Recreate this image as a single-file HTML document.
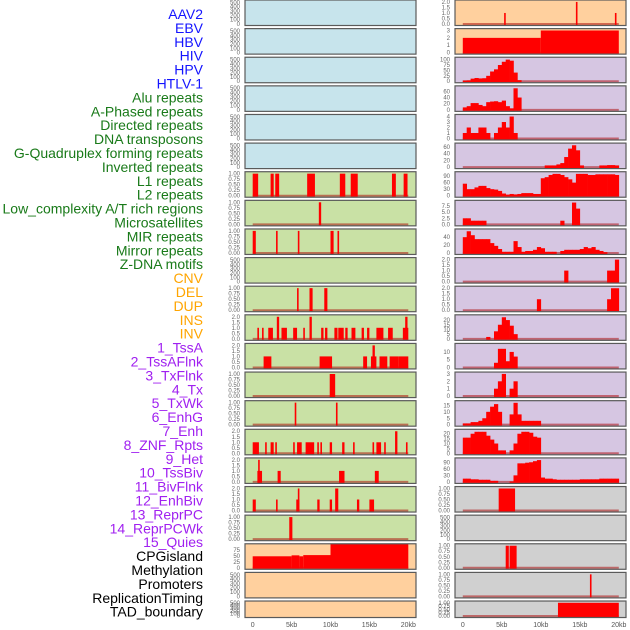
<!DOCTYPE html>
<html><head><meta charset="utf-8"><style>
html,body{margin:0;padding:0;background:#fff;width:630px;height:630px;overflow:hidden}
svg{display:block;font-family:"Liberation Sans",sans-serif}
</style></head><body>
<svg id="chart" width="630" height="630" viewBox="0 0 630 630"></svg>
<script>
// ---------- labels ----------
const blueLabels = ["AAV2","EBV","HBV","HIV","HPV","HTLV-1"];
const greenLabels = ["Alu repeats","A-Phased repeats","Directed repeats","DNA transposons","G-Quadruplex forming repeats","Inverted repeats","L1 repeats","L2 repeats","Low_complexity A/T rich regions","Microsatellites","MIR repeats","Mirror repeats","Z-DNA motifs"];
const orangeLabels = ["CNV","DEL","DUP","INS","INV"];
const purpleLabels = ["1_TssA","2_TssAFlnk","3_TxFlnk","4_Tx","5_TxWk","6_EnhG","7_Enh","8_ZNF_Rpts","9_Het","10_TssBiv","11_BivFlnk","12_EnhBiv","13_ReprPC","14_ReprPCWk","15_Quies"];
const blackLabels = ["CPGisland","Methylation","Promoters","ReplicationTiming","TAD_boundary"];
const xTickValues = [0,5,10,15,20];
const xTickLabels = ["0","5kb","10kb","15kb","20kb"];

// ---------- tick sets ----------
const t500 = [0,100,200,300,400,500];
const t1 = [0,0.25,0.5,0.75,1];
const t1l = ["0.00","0.25","0.50","0.75","1.00"];
const t2 = [0,0.5,1,1.5,2];
const t2l = ["0.0","0.5","1.0","1.5","2.0"];

// ---------- left column interval data [startKb,endKb,value] ----------
const leftL1 = [[0,0.7,1],[2.3,2.7,1],[2.9,3.4,1],[7,8,1],[11.2,11.9,1],[12.6,13.5,1],[17.9,18.4,1],[19.4,19.9,1]];
const leftL2 = [[8.5,8.8,1]];
const leftLowc = [[0,0.4,1],[3.0,3.2,1],[5.8,6.0,1],[10.0,10.4,1],[10.9,11.1,1]];
const leftMir = [[5.7,5.9,1],[7.3,7.7,1],[9.2,9.6,1]];
const leftZdna = [[0.6,0.8,1],[1.2,1.4,1],[2,2.6,1],[3.1,3.4,2],[3.7,4.4,1],[5.2,5.7,1],[6.5,6.7,1],[7.3,7.6,2],[8.8,9.1,1],[9.3,9.6,1],[10.5,10.9,1],[11,11.7,1],[11.9,12.2,1],[12.7,13.2,1],[14,14.3,1],[14.7,15,1],[15.9,16.8,1],[17.4,18,1],[19.3,20,1],[19.6,19.9,2]];
const leftCnv = [[1.4,2.4,1],[8.6,10.2,1],[14.2,14.7,1],[15.2,15.9,1],[15.4,15.7,2],[16.3,17.3,1],[17.6,18.7,1],[18.7,20,1]];
const leftDel = [[9.9,10.6,1]];
const leftDup = [[5.4,5.6,1],[10.7,10.9,1]];
const leftIns = [[0,0.8,1],[1.6,1.8,1],[2.3,2.7,1],[2.9,3.1,1],[5.2,5.4,1],[5.7,6.3,1],[6.8,7.9,1],[8.3,8.5,1],[8.7,8.9,1],[9.9,10.2,1],[11.5,11.8,1],[12.9,13.1,1],[15.4,15.5,1],[15.9,16.5,1],[16.9,17.1,1],[18.3,18.6,2],[19.7,19.9,1]];
const leftInv = [[0.6,1.2,1],[0.7,0.9,2],[3.2,3.6,1],[11.1,11.8,1],[15.7,16.2,1]];
const leftTss = [[0,0.4,1],[3.0,3.2,1],[5.6,6.0,1],[5.8,6.0,2],[8.3,8.6,1],[9.9,10.2,1],[10.6,11.0,2],[13.4,13.7,1],[15.0,15.6,1]];
const leftFlnk = [[4.7,5.1,1]];
const leftCpg = [[0,5,48],[5,6,52],[6,6.5,48],[6.5,10,53],[10,20,100]];

// ---------- right column data ----------
const rightAav = [[5.3,5.5,1],[14.5,14.7,2],[19.5,19.7,1]];
const rightEbv = [[0,10,2],[10,20,3]];
// profiles: 40 bins of 0.5kb from 0 to 20kb
const profHiv = [3,4,12,15,13,14,25,45,55,75,90,100,95,40,5,0,0,0,0,0,0,0,0,0,0,0,0,0,0,0,0,0,0,0,0,0,0,0,0,0];
const profAlu = [8,12,22,22,16,12,25,27,28,25,30,12,5,70,40,0,0,0,0,0,0,0,0,0,0,0,0,0,0,0,0,0,0,0,0,0,0,0,0,0];
const profDir = [1,2,1,1,2,2,1,0,1,2,3,2,4,1,0,0,0,0,0,0,0,0,0,0,0,0,0,0,0,0,0,0,0,0,0,0,0,0,0,0];
const profGq = [0,0,0,0,0,0,0,0,0,0,0,0,0,0,0,0,0,0,0,0,0,5,5,5,8,12,30,55,65,50,5,0,0,0,0,5,5,6,6,5];
const profL1 = [55,30,30,38,45,45,35,30,28,22,10,5,8,6,8,12,12,12,8,8,80,85,95,100,100,95,85,75,60,100,100,100,95,95,98,98,98,98,98,95];
const profLow = [2.5,2.5,1.5,1.5,1.5,1.5,0,0,0,0,0,0,0,0,0,0,0,0,0,0,0,0,0,0,0,1.5,0,0,9,6.5,0,0,0,0,0,0,0,0,0,0];
const profMir = [40,55,45,35,35,35,35,25,18,10,3,3,3,30,15,3,5,5,8,15,12,3,3,3,0,5,8,8,8,8,10,15,12,15,8,5,2,0,0,0];
const profMirror = [0,0,0,0,0,0,0,0,0,0,0,0,0,0,0,0,0,0,0,0,0,0,0,0,0,0,1,0,0,0,0,0,0,0,0,0,0,1,1,2];
const profZ = [0,0,0,0,0,0,0,0,0,0,0,0,0,0,0,0,0,0,0,1,0,0,0,0,0,0,0,0,0,0,0,0,0,0,0,0,0,1,2,2];
const profTssA = [0,0,0,0,0,0,2,0,8,15,23,20,14,5,0,0,0,0,0,0,0,0,0,0,0,0,0,0,0,0,0,0,0,0,0,0,0,0,0,0];
const profTssFl = [0,0,0,0,0,0,0,0,3,12,12,4,10,7,0,0,0,0,0,0,0,0,0,0,0,0,0,0,0,0,0,0,0,0,0,0,0,0,0,0];
const profTx = [0,0,0,0,0,0,0,0,1,2,3,0,1,2,0,0,0,0,0,0,0,0,0,0,0,0,0,0,0,0,0,0,0,0,0,0,0,0,0,0];
const profTxWk = [1,1,2,2,3,5,10,14,16,10,0,0,8,17,8,3,3,3,3,3,0,0,0,0,0,0,0,0,0,0,0,0,0,0,0,0,0,0,0,0];
const profEnh = [16,16,20,22,22,22,18,14,10,3,3,0,3,10,20,22,22,21,17,16,0,0,0,0,0,0,0,0,0,0,0,0,0,0,0,0,0,0,0,0];
const profZnf = [15,15,12,12,10,10,10,5,5,0,0,0,2,30,85,85,88,90,95,100,20,15,15,12,10,10,10,10,10,10,12,12,12,12,12,15,15,15,15,15];
const rightBiv = [[4.6,6.7,1]];
const rightRepr = [[5.5,5.9,1],[6.0,6.9,1]];
const rightRepWk = [[16.3,16.5,1]];
const rightQuies = [[12.2,20,1]];

const BG = {blue:"#c7e4ec",green:"#c9e1a5",orange:"#ffd09e",purple:"#d6c6e2",grey:"#d0d0d0"};
const leftPanels = [
 {name:"aav2",bg:BG.blue,ticks:t500,top:520},
 {name:"ebv",bg:BG.blue,ticks:t500,top:520},
 {name:"hbv",bg:BG.blue,ticks:t500,top:520},
 {name:"hiv",bg:BG.blue,ticks:t500,top:520},
 {name:"hpv",bg:BG.blue,ticks:t500,top:520},
 {name:"htlv",bg:BG.blue,ticks:t500,top:520},
 {name:"l1",bg:BG.green,ticks:t1,tl:t1l,top:1.02,iv:leftL1},
 {name:"l2",bg:BG.green,ticks:t1,tl:t1l,top:1.02,iv:leftL2},
 {name:"lowc",bg:BG.green,ticks:t1,tl:t1l,top:1.02,iv:leftLowc},
 {name:"micro",bg:BG.green,ticks:t500,top:520},
 {name:"mir",bg:BG.green,ticks:t1,tl:t1l,top:1.02,iv:leftMir},
 {name:"zdna",bg:BG.green,ticks:t2,tl:t2l,top:2.04,iv:leftZdna},
 {name:"cnv",bg:BG.green,ticks:t2,tl:t2l,top:2.04,iv:leftCnv},
 {name:"del",bg:BG.green,ticks:t1,tl:t1l,top:1.02,iv:leftDel},
 {name:"dup",bg:BG.green,ticks:t1,tl:t1l,top:1.02,iv:leftDup},
 {name:"ins",bg:BG.green,ticks:t2,tl:t2l,top:2.04,iv:leftIns},
 {name:"inv",bg:BG.green,ticks:t2,tl:t2l,top:2.04,iv:leftInv},
 {name:"tssa",bg:BG.green,ticks:t2,tl:t2l,top:2.04,iv:leftTss},
 {name:"flnk",bg:BG.green,ticks:t1,tl:t1l,top:1.02,iv:leftFlnk},
 {name:"cpg",bg:BG.orange,ticks:[0,25,50,75],top:94,iv:leftCpg},
 {name:"methyl",bg:BG.orange,ticks:t500,top:520},
 {name:"promoters",bg:BG.orange,ticks:t500,top:520}
];
const rightPanels = [
 {name:"aav2-r",bg:BG.orange,ticks:t2,tl:t2l,top:2.04,iv:rightAav},
 {name:"ebv-r",bg:BG.orange,ticks:[0,1,2,3],top:3.05,iv:rightEbv},
 {name:"hiv-r",bg:BG.purple,ticks:[0,25,50,75,100],top:104,pr:profHiv},
 {name:"alu-r",bg:BG.purple,ticks:[0,20,40,60],top:73,pr:profAlu},
 {name:"directed-r",bg:BG.purple,ticks:[0,1,2,3,4],top:4.1,pr:profDir},
 {name:"gquad-r",bg:BG.purple,ticks:[0,20,40,60],top:67,pr:profGq},
 {name:"l1-r",bg:BG.purple,ticks:[0,30,60,90],top:103,pr:profL1},
 {name:"lowc-r",bg:BG.purple,ticks:[0,2.5,5,7.5],tl:["0.0","2.5","5.0","7.5"],top:9.3,pr:profLow},
 {name:"mir-r",bg:BG.purple,ticks:[0,20,40],top:57,pr:profMir},
 {name:"mirror-r",bg:BG.purple,ticks:t2,tl:t2l,top:2.05,pr:profMirror},
 {name:"zdna-r",bg:BG.purple,ticks:t2,tl:t2l,top:2.05,pr:profZ},
 {name:"tssa-r",bg:BG.purple,ticks:[0,5,10,15,20],top:24,pr:profTssA},
 {name:"tssaflnk-r",bg:BG.purple,ticks:[0,5,10],top:14.5,pr:profTssFl},
 {name:"txflnk-r",bg:BG.purple,ticks:[0,1,2,3],top:3.05,pr:profTx},
 {name:"txwk-r",bg:BG.purple,ticks:[0,5,10,15],top:17.5,pr:profTxWk},
 {name:"enh-r",bg:BG.purple,ticks:[0,5,10,15,20],top:23,pr:profEnh},
 {name:"znf-r",bg:BG.purple,ticks:[0,30,60,90],top:103,pr:profZnf},
 {name:"bivflnk-r",bg:BG.grey,ticks:t1,tl:t1l,top:1.02,iv:rightBiv},
 {name:"enhbiv-r",bg:BG.grey,ticks:t500,top:520},
 {name:"reprpc-r",bg:BG.grey,ticks:t1,tl:t1l,top:1.02,iv:rightRepr},
 {name:"reprpcwk-r",bg:BG.grey,ticks:t1,tl:t1l,top:1.02,iv:rightRepWk},
 {name:"quies-r",bg:BG.grey,ticks:t1,tl:t1l,top:1.02,iv:rightQuies}
];

const NS="http://www.w3.org/2000/svg";
const svg=document.getElementById("chart");
function mk(tag,attrs,parent){const e=document.createElementNS(NS,tag);for(const k in attrs)e.setAttribute(k,attrs[k]);(parent||svg).appendChild(e);return e;}

// labels
const groups=[[blueLabels,"#1414ff"],[greenLabels,"#197a19"],[orangeLabels,"#ffa500"],[purpleLabels,"#a020f0"],[blackLabels,"#000"]];
let li=0;
groups.forEach(g=>g[0].forEach(t=>{
  const e=mk("text",{x:203,y:19+li*13.9,"text-anchor":"end","font-size":"14",fill:g[1]});
  
  
  e.textContent=t;li++;
}));

function drawCol(panels,x0,x1,zeroX,kbPx,tickRight,colName){
  const xs=kb=>zeroX+kb*kbPx;
  panels.forEach((p,i)=>{
    const T=i*28.62, H=(i===21?16.5:25.5), B=T+H;
    const g=mk("g",{});
    
    
    const cp=mk("clipPath",{id:"c"+colName+i},g);
    mk("rect",{x:x0,y:T,width:x1-x0,height:H},cp);
    const bg=mk("rect",{x:x0,y:T,width:x1-x0,height:H,fill:p.bg},g);
    
    
    const ys=v=>B-1.5-v/p.top*(H-3);
    const marks=mk("g",{"clip-path":"url(#c"+colName+i+")"},g);
    if(p.iv||p.pr){
      const bl=mk("line",{x1:xs(0),x2:xs(20),y1:ys(0),y2:ys(0),stroke:"rgba(170,0,0,0.5)","stroke-width":2},marks);
      
      
    }
    if(p.iv) p.iv.forEach(d=>{
      const w=Math.max(1.6,xs(d[1])-xs(d[0]));
      const r=mk("rect",{x:xs(d[0]),y:ys(d[2]),width:w,height:ys(0)-ys(d[2])+1,fill:"#ff0000"},marks);
      
      
    });
    if(p.pr) p.pr.forEach((v,k)=>{
      if(v<=0)return;
      const r=mk("rect",{x:xs(k*0.5),y:ys(v),width:xs(0.5)-xs(0)+0.3,height:ys(0)-ys(v)+1,fill:"#ff0000"},marks);
      
      
    });
    mk("rect",{x:x0,y:T,width:x1-x0,height:H,fill:"none",stroke:"#5a5a5a","stroke-width":1.2},g);
    p.ticks.forEach((tv,j)=>{
      const t=mk("text",{x:tickRight,y:ys(tv)+2,"text-anchor":"end","font-size":"6",fill:"#666"},g);
      
      
      t.textContent=p.tl?p.tl[j]:String(tv);
    });
  });
  xTickValues.forEach((v,j)=>{
    const t=mk("text",{x:xs(v),y:627,"text-anchor":"middle","font-size":"7",fill:"#555"});
    
    
    t.textContent=xTickLabels[j];
  });
}
drawCol(leftPanels,245,416,252.7,7.78,240,"left");
drawCol(rightPanels,455,626,462.8,7.8,450,"right");
</script>
</body></html>
